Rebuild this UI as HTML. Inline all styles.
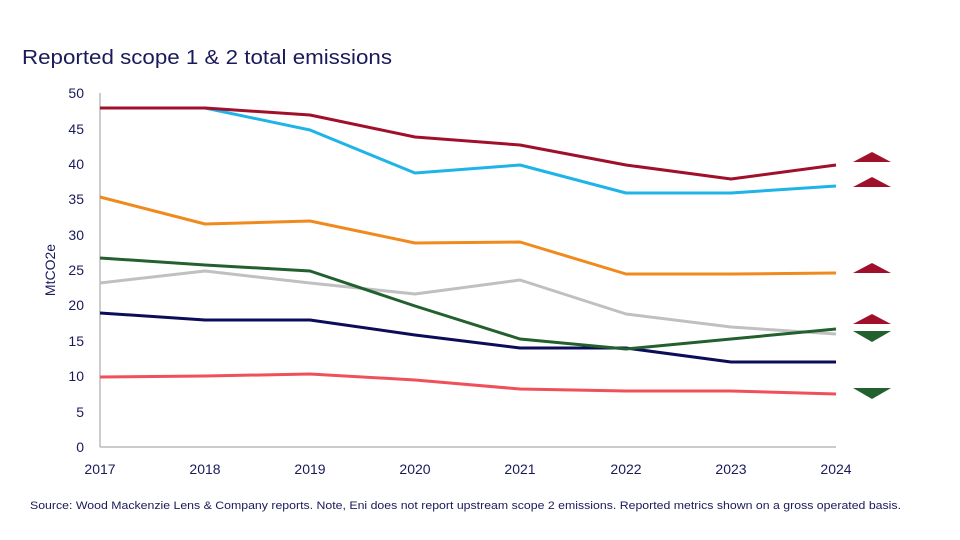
<!DOCTYPE html><html><head><style>body{margin:0;background:#fff}svg{display:block;font-family:"Liberation Sans",sans-serif}</style></head><body>
<svg width="960" height="540" viewBox="0 0 960 540">
<text x="22" y="64" font-size="20" fill="#1a1a5a" textLength="370" lengthAdjust="spacingAndGlyphs">Reported scope 1 &amp; 2 total emissions</text>
<g font-size="14" fill="#1a1a5a" text-anchor="end">
<text x="84" y="98">50</text><text x="84" y="134">45</text><text x="84" y="169">40</text><text x="84" y="204">35</text><text x="84" y="240">30</text><text x="84" y="275">25</text><text x="84" y="310">20</text><text x="84" y="346">15</text><text x="84" y="381">10</text><text x="84" y="417">5</text><text x="84" y="452">0</text></g>
<text transform="translate(55,270) rotate(-90)" font-size="14" fill="#1a1a5a" text-anchor="middle">MtCO2e</text>
<line x1="100" y1="93" x2="100" y2="447" stroke="#999"/><line x1="100" y1="447" x2="836" y2="447" stroke="#999"/>
<g font-size="14" fill="#1a1a5a" text-anchor="middle">
<text x="100" y="474">2017</text><text x="205" y="474">2018</text><text x="310" y="474">2019</text><text x="415" y="474">2020</text><text x="520" y="474">2021</text><text x="626" y="474">2022</text><text x="731" y="474">2023</text><text x="836" y="474">2024</text></g>
<g fill="none" stroke-width="3" stroke-linejoin="round">
<polyline stroke="#f0505a" points="100,377 205,376 310,374 415,380 520,389 626,391 731,391 836,394"/>
<polyline stroke="#0c0c5a" points="100,313 205,320 310,320 415,335 520,348 626,348 731,362 836,362"/>
<polyline stroke="#c0c0c0" points="100,283 205,271 310,283 415,294 520,280 626,314 731,327 836,334"/>
<polyline stroke="#22602e" points="100,258 205,265 310,271 415,306 520,339 626,349 731,339 836,329"/>
<polyline stroke="#f08a1e" points="100,197 205,224 310,221 415,243 520,242 626,274 731,274 836,273"/>
<polyline stroke="#1eb4e8" points="100,108 205,108 310,130 415,173 520,165 626,193 731,193 836,186"/>
<polyline stroke="#a0102a" points="100,108 205,108 310,115 415,137 520,145 626,165 731,179 836,165"/>
</g>
<g fill="#a0102a"><polygon points="853,162 872,152 891,162"/><polygon points="853,187 872,177 891,187"/><polygon points="853,273 872,263 891,273"/><polygon points="853,324 872,314 891,324"/></g>
<g fill="#22602e"><polygon points="853,331 891,331 872,342"/><polygon points="853,388 891,388 872,399"/></g>
<text x="30" y="509" font-size="11" fill="#1a1a5a" textLength="871" lengthAdjust="spacingAndGlyphs">Source: Wood Mackenzie Lens &amp; Company reports. Note, Eni does not report upstream scope 2 emissions. Reported metrics shown on a gross operated basis.</text>
</svg></body></html>
